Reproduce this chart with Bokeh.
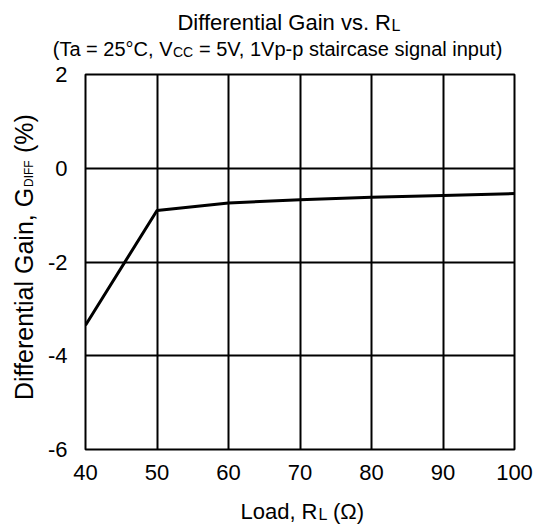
import math
from bokeh.plotting import figure
from bokeh.models import Range1d, Label, FixedTicker
from bokeh.layouts import column, row
from bokeh.embed import file_html
from bokeh.resources import INLINE

# ---- data ----
load_ohm = [40, 50, 60, 70, 80, 90, 100]
diff_gain = [-3.35, -0.90, -0.74, -0.67, -0.62, -0.58, -0.54]
x_ticks = [40, 50, 60, 70, 80, 90, 100]
y_ticks = [-6, -4, -2, 0, 2]
y_tick_labels = {-6: "-6", -4: "-4", -2: "-2", 0: "0", 2: "2"}

FONT = "Liberation Sans"
TOTAL_W = 536
TOP_H = 60
LEFT_W = 40
MAIN_H = 430
BOT_H = 35
# frame in page pixels
FL, FR, FT, FB = 85, 514, 74, 449

p = figure(width=TOTAL_W - LEFT_W, height=MAIN_H, output_backend="svg",
           toolbar_location=None,
           x_range=Range1d(40, 100), y_range=Range1d(-6, 2),
           min_border_left=FL - LEFT_W, min_border_right=TOTAL_W - FR,
           min_border_top=FT - TOP_H, min_border_bottom=TOP_H + MAIN_H - FB)
p.background_fill_color = "white"
p.border_fill_color = "white"
p.outline_line_color = "black"
p.outline_line_width = 2

p.xaxis.ticker = FixedTicker(ticks=x_ticks)
p.yaxis.ticker = FixedTicker(ticks=y_ticks)
p.yaxis.major_label_overrides = y_tick_labels
for ax in (p.xaxis, p.yaxis):
    ax.axis_line_color = None
    ax.major_tick_line_color = None
    ax.minor_tick_line_color = None
    ax.major_label_text_font = FONT
    ax.major_label_text_font_size = "22px"
    ax.major_label_text_color = "black"
p.xaxis.major_label_standoff = 9
p.yaxis.major_label_standoff = 12

for g in (p.xgrid, p.ygrid):
    g.grid_line_color = "black"
    g.grid_line_width = 2
    g.grid_line_alpha = 1

p.line(load_ohm, diff_gain, line_color="black", line_width=3)


def strip(w, h):
    f = figure(width=w, height=h, output_backend="svg", toolbar_location=None,
               x_range=Range1d(0, w), y_range=Range1d(0, h),
               min_border=0, x_axis_location=None, y_axis_location=None)
    f.grid.grid_line_color = None
    f.outline_line_color = None
    f.background_fill_color = "white"
    f.border_fill_color = "white"
    return f


def lab(f, text, x, y_from_top, size, align="left", angle=0):
    corr = 0.2 * size
    if angle:
        x = x - corr
    else:
        y_from_top = y_from_top - corr
    f.add_layout(Label(x=x, y=f.height - y_from_top, text=text, text_font=FONT,
                       text_font_size=f"{size}px", text_color="black",
                       text_align=align, text_baseline="alphabetic",
                       angle=angle))


top = strip(TOTAL_W, TOP_H)
lab(top, "Differential Gain vs. R", 390.5, 26, 22, "right")
lab(top, "L", 391, 28, 16)
lab(top, "(Ta = 25°C, V", 172, 52, 20, "right")
lab(top, "CC", 172.5, 54, 14)
lab(top, "= 5V, 1Vp-p staircase signal input)", 198.5, 52, 20)

left = strip(LEFT_W, MAIN_H)
a = math.pi / 2
lab(left, "Differential Gain, G", 28.5, 190 - TOP_H, 25, "right", a)
lab(left, "DIFF", 31, 189 - TOP_H, 12, "left", a)
lab(left, "(%)", 28.5, 150 - TOP_H, 25, "left", a)

bot = strip(TOTAL_W, BOT_H)
y0 = TOP_H + MAIN_H
lab(bot, "Load, R", 317, 515 - y0, 22, "right")
lab(bot, "L", 318, 517 - y0, 16)
lab(bot, "(Ω)", 332.5, 515 - y0, 22)

layout = column(top, row(left, p), bot)
open("out.html", "w").write(file_html(layout, INLINE))
